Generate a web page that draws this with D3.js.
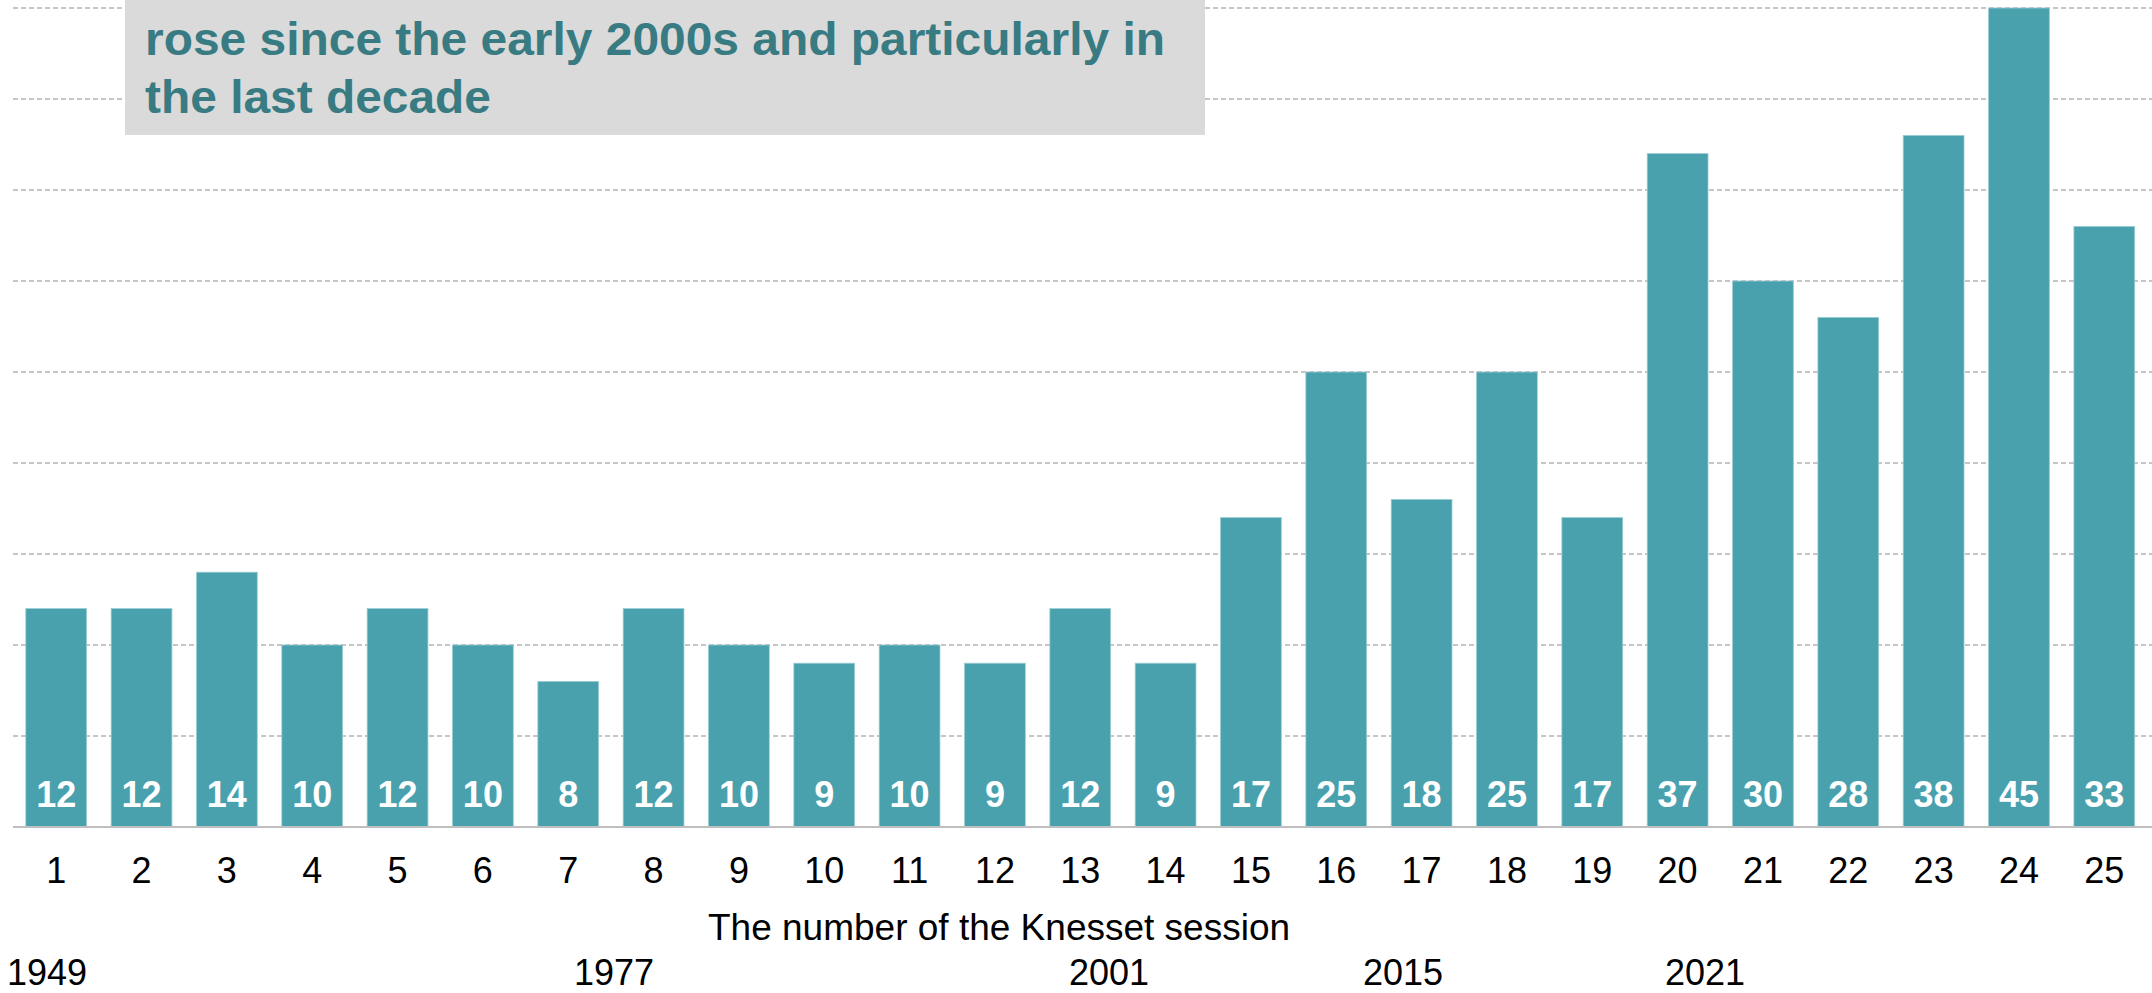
<!DOCTYPE html>
<html>
<head>
<meta charset="utf-8">
<script src="https://cdn.jsdelivr.net/npm/d3@7"></script>
<style>
  html, body { margin: 0; padding: 0; background: #ffffff; }
  svg { display: block; font-family: "Liberation Sans", Arial, sans-serif; }
</style>
</head>
<body>
<svg id="chart" width="2152" height="993"></svg>
<script>
// ---- data ----
const sessions = ["1","2","3","4","5","6","7","8","9","10","11","12","13","14","15","16","17","18","19","20","21","22","23","24","25"];
const values   = [12,12,14,10,12,10,8,12,10,9,10,9,12,9,17,25,18,25,17,37,30,28,38,45,33];
const gridTicks = [5,10,15,20,25,30,35,40,45];
const yearLabels = ["1949","1977","2001","2015","2021"];
const titleLines = ["rose since the early 2000s and particularly in", "the last decade"];
const axisTitle = "The number of the Knesset session";

// ---- layout (not data) ----
const W = 2152, H = 993;
const yearLabelX = [7, 574, 1069, 1363, 1665];
const titleLineBaselines = [55, 112.7];
const titleLineWidths = [1020, 346];

const svg = d3.select("#chart");

const x = d3.scaleBand()
  .domain(sessions)
  .range([13, 2147.5])
  .paddingInner(0.2875)
  .paddingOuter(0.15);

const y = d3.scaleLinear()
  .domain([0, 45])
  .range([827, 8]);

// gridlines
svg.append("g")
  .selectAll("line")
  .data(gridTicks)
  .join("line")
  .attr("x1", 13)
  .attr("x2", W)
  .attr("y1", d => y(d))
  .attr("y2", d => y(d))
  .attr("stroke", "#b3b3b3")
  .attr("stroke-width", 1.6)
  .attr("stroke-dasharray", "5,3");

// bars
const data = sessions.map((s, i) => ({ s, v: values[i] }));
svg.append("g")
  .selectAll("rect")
  .data(data)
  .join("rect")
  .attr("x", d => x(d.s))
  .attr("width", x.bandwidth())
  .attr("y", d => y(d.v))
  .attr("height", d => y(0) - y(d.v))
  .attr("fill", "#4aa1ae")
  .attr("stroke", "#9ccdd4")
  .attr("stroke-width", 0.8);

// value labels
svg.append("g")
  .selectAll("text")
  .data(data)
  .join("text")
  .attr("x", d => x(d.s) + x.bandwidth() / 2)
  .attr("y", 807)
  .attr("text-anchor", "middle")
  .attr("fill", "#ffffff")
  .attr("font-weight", "bold")
  .attr("font-size", 36)
  .text(d => d.v);

// baseline
svg.append("line")
  .attr("x1", 13).attr("x2", W)
  .attr("y1", y(0)).attr("y2", y(0))
  .attr("stroke", "#bfbfbf")
  .attr("stroke-width", 2);

// x axis
const xAxis = svg.append("g")
  .attr("transform", `translate(0,${y(0)})`)
  .call(d3.axisBottom(x).tickSize(0));
xAxis.select(".domain").remove();
xAxis.selectAll("text")
  .attr("dy", null)
  .attr("y", 56)
  .attr("font-size", 36)
  .attr("font-family", "\"Liberation Sans\", Arial, sans-serif")
  .attr("fill", "#000000");

// axis title
svg.append("text")
  .attr("x", 708)
  .attr("y", 940)
  .attr("font-size", 37)
  .attr("fill", "#000000")
  .text(axisTitle);

// year labels
svg.append("g")
  .selectAll("text")
  .data(yearLabels)
  .join("text")
  .attr("x", (d, i) => yearLabelX[i])
  .attr("y", 985)
  .attr("font-size", 36)
  .attr("fill", "#000000")
  .text(d => d);

// title box
svg.append("rect")
  .attr("x", 125).attr("y", 0)
  .attr("width", 1080).attr("height", 135)
  .attr("fill", "#dadada");

svg.append("g")
  .selectAll("text")
  .data(titleLines)
  .join("text")
  .attr("x", 145)
  .attr("y", (d, i) => titleLineBaselines[i])
  .attr("font-size", 47)
  .attr("font-weight", "bold")
  .attr("fill", "#387b82")
  .attr("textLength", (d, i) => titleLineWidths[i])
  .attr("lengthAdjust", "spacingAndGlyphs")
  .text(d => d);
</script>
</body>
</html>
